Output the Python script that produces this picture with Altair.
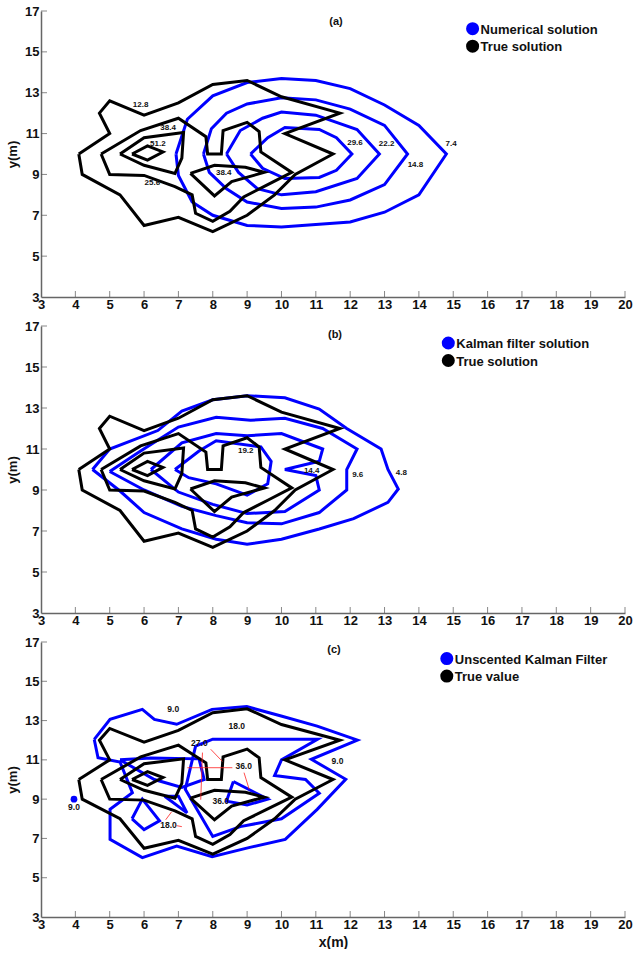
import altair as alt
import pandas as pd

X_TICKS = list(range(3, 21))
Y_TICKS = [3, 5, 7, 9, 11, 13, 15, 17]

# ---- true solution contours (same in all panels) ----
TRUE_12_8 = [(4.1, 10.0), (5.0, 11.0), (4.7, 12.0), (5.0, 12.6), (6.0, 11.9), (7.0, 12.5), (8.0, 13.4),
             (9.0, 13.6), (10.0, 12.8), (11.7, 12.0), (10.1, 11.0), (11.5, 10.0), (10.4, 9.0), (9.8, 8.0),
             (9.0, 7.0), (8.0, 6.2), (7.0, 6.9), (6.0, 6.5), (5.3, 8.0), (4.2, 9.0), (4.1, 10.0)]
TRUE_25_6 = [(4.75, 10.0), (5.9, 11.15), (7.0, 11.75), (7.8, 10.85), (7.85, 10.0), (8.25, 10.0), (8.3, 11.15),
             (9.0, 11.55), (9.35, 11.1), (9.4, 10.1), (10.3, 9.1), (9.6, 8.5), (8.9, 7.9), (8.5, 7.2),
             (8.0, 6.7), (7.5, 7.1), (7.4, 8.0), (6.9, 8.4), (6.0, 8.95), (5.0, 9.0), (4.75, 10.0)]
TRUE_38_4A = [(5.3, 10.0), (6.0, 10.8), (7.15, 11.05), (7.1, 9.8), (6.9, 9.05), (6.0, 9.45), (5.3, 10.0)]
TRUE_51_2 = [(5.65, 10.0), (6.1, 10.4), (6.55, 10.1), (6.1, 9.7), (5.65, 10.0)]
TRUE_38_4B = [(7.35, 9.05), (8.05, 9.45), (8.95, 9.35), (9.5, 9.1), (8.55, 8.65), (8.05, 7.95), (7.35, 9.05)]
TRUE_CONTOURS = [TRUE_12_8, TRUE_25_6, TRUE_38_4A, TRUE_51_2, TRUE_38_4B]

# ---- (a) numerical solution ----
NUM_7_4 = [(6.93, 10.0), (7.26, 11.7), (8.0, 12.85), (9.0, 13.5), (10.0, 13.7), (11.0, 13.6), (12.0, 13.2),
           (13.0, 12.4), (14.0, 11.4), (14.8, 10.0), (14.0, 8.0), (13.0, 7.15), (12.0, 6.67), (10.0, 6.43),
           (9.0, 6.5), (8.0, 7.0), (7.4, 7.65), (7.0, 8.95), (6.93, 10.0)]
NUM_14_8 = [(7.73, 10.0), (7.96, 11.24), (8.4, 12.0), (9.0, 12.45), (10.0, 12.75), (11.0, 12.65), (12.0, 12.2),
            (13.0, 11.4), (13.67, 10.0), (13.0, 8.5), (12.0, 7.75), (11.0, 7.4), (10.0, 7.33), (9.0, 7.65),
            (8.4, 8.3), (7.9, 9.1), (7.73, 10.0)]
NUM_22_2 = [(8.4, 10.0), (8.8, 11.15), (9.45, 11.75), (10.0, 12.05), (11.0, 11.9), (12.2, 11.2), (12.85, 10.0),
            (12.2, 8.8), (11.0, 8.15), (10.0, 8.0), (9.3, 8.3), (8.75, 9.1), (8.4, 10.0)]
NUM_29_6 = [(9.1, 10.0), (9.6, 10.8), (10.1, 11.3), (11.1, 11.2), (11.6, 10.8), (12.05, 10.0), (11.6, 9.2),
            (11.1, 8.85), (10.1, 8.8), (9.45, 9.3), (9.1, 10.0)]
NUM_CONTOURS = [NUM_7_4, NUM_14_8, NUM_22_2, NUM_29_6]
LABELS_A = [("12.8", 5.9, 12.38), ("38.4", 6.7, 11.27), ("51.2", 6.4, 10.47), ("25.6", 6.24, 8.58),
            ("38.4", 8.32, 9.09), ("29.6", 12.14, 10.56), ("22.2", 13.06, 10.47), ("14.8", 13.9, 9.45),
            ("7.4", 14.94, 10.47)]

# ---- (b) Kalman filter solution ----
KF_4_8 = [(4.5, 10.0), (5.0, 11.0), (6.4, 11.9), (7.1, 12.85), (8.0, 13.4), (9.0, 13.6), (10.1, 13.5),
          (11.1, 12.95), (11.9, 12.0), (12.9, 11.0), (13.1, 10.0), (13.4, 9.05), (13.1, 8.4), (12.1, 7.6),
          (11.1, 7.1), (10.0, 6.6), (9.0, 6.35), (8.1, 6.6), (7.1, 7.1), (6.0, 7.9), (5.3, 8.95), (4.5, 10.0)]
KF_9_6 = [(5.0, 9.9), (5.9, 10.9), (7.0, 12.07), (8.1, 12.55), (9.1, 12.4), (10.1, 12.5), (11.2, 12.0),
          (12.2, 11.0), (11.9, 10.0), (11.9, 9.0), (11.1, 7.9), (10.0, 7.35), (9.0, 7.4), (8.1, 7.75),
          (7.1, 8.2), (6.0, 9.0), (5.0, 9.9)]
KF_14_4 = [(6.2, 10.0), (7.1, 11.3), (8.1, 11.75), (9.0, 11.65), (10.0, 11.75), (11.2, 11.0), (11.1, 10.4),
           (10.1, 10.0), (11.0, 9.7), (11.1, 9.0), (10.1, 7.95), (9.0, 7.85), (8.0, 8.3), (7.0, 8.9), (6.2, 10.0)]
KF_19_2 = [(6.9, 10.0), (7.6, 10.9), (8.1, 11.4), (9.4, 11.1), (9.7, 10.4), (9.6, 9.3), (9.0, 8.75),
           (8.1, 9.3), (7.3, 9.6), (6.9, 10.0)]
KF_CONTOURS = [KF_4_8, KF_9_6, KF_14_4, KF_19_2]
LABELS_B = [("19.2", 8.96, 10.88), ("14.4", 10.88, 9.92), ("9.6", 12.22, 9.75), ("4.8", 13.49, 9.82)]

# ---- (c) unscented Kalman filter ----
UKF_9_0 = [(4.55, 12.04), (5.01, 13.06), (5.95, 13.57), (6.3, 13.06), (6.95, 12.81), (7.98, 13.57),
           (8.99, 13.71), (9.99, 13.23), (11.04, 12.72), (12.21, 12.01), (10.87, 11.03), (11.87, 10.01),
           (11.04, 8.48), (10.11, 6.95), (9.05, 6.53), (7.98, 6.07), (6.95, 6.61), (5.95, 6.02), (5.01, 6.95),
           (5.01, 8.48), (5.66, 9.33), (5.3, 10.89), (4.66, 11.11), (4.55, 12.04)]
UKF_18_0A = [(7.5, 11.7), (8.0, 12.05), (9.4, 12.05), (11.05, 12.05), (10.0, 11.0), (9.8, 10.2), (10.7, 10.0),
             (11.1, 9.3), (10.0, 8.0), (8.8, 7.6), (8.0, 7.1), (7.5, 8.6), (7.2, 9.5), (7.5, 11.7)]
UKF_18_0B = [(5.65, 8.0), (5.95, 9.0), (6.45, 7.9), (6.0, 7.45), (5.65, 8.0)]
UKF_27_0 = [(5.3, 11.0), (6.2, 11.1), (7.6, 11.05), (7.75, 10.0), (7.1, 9.6), (6.3, 10.0), (5.3, 11.0)]
UKF_36_0 = [(8.6, 9.9), (9.6, 9.0), (9.0, 8.7), (8.4, 8.9), (8.6, 9.9)]
UKF_36_0B = [(6.6, 9.15), (7.0, 9.15), (7.25, 8.3), (6.6, 9.15)]
UKF_CONTOURS = [UKF_9_0, UKF_18_0A, UKF_18_0B, UKF_27_0, UKF_36_0, UKF_36_0B]
UKF_DOT = [(3.96, 9.0)]
LABELS_C = [("9.0", 6.85, 13.6), ("18.0", 8.7, 12.72), ("27.0", 7.61, 11.84), ("36.0", 8.9, 10.69),
            ("36.0", 8.23, 8.91), ("18.0", 6.71, 7.68), ("9.0", 11.63, 10.94), ("9.0", 3.96, 8.6)]
RED_SEGMENTS = [((7.26, 10.6), (8.57, 10.6)), ((7.7, 11.37), (7.65, 8.97)), ((7.94, 11.54), (8.28, 10.92)),
                ((8.91, 10.35), (9.06, 9.5)), ((6.63, 7.95), (6.8, 8.35)), ((6.95, 7.65), (7.1, 7.6))]

LEGEND_A = ["Numerical solution", "True solution"]
LEGEND_B = ["Kalman filter solution", "True solution"]
LEGEND_C = ["Unscented Kalman Filter", "True value"]

BLUE = "#0000ff"
BLACK = "#000000"
W = 584


def lines_df(contours):
    rows = []
    for cid, pts in enumerate(contours):
        for i, (x, y) in enumerate(pts):
            rows.append({"cid": cid, "i": i, "x": x, "y": y})
    return pd.DataFrame(rows)


def panel(blue, labels, legend, tag, h, leg_xy, tag_xy, xtitle, lab_size, red=None, dot=None):
    xs = alt.Scale(domain=[3, 20], nice=False, zero=False)
    ys = alt.Scale(domain=[3, 17], nice=False, zero=False)
    xax = alt.Axis(values=X_TICKS, format="d", title=xtitle, labelPadding=1, titlePadding=4,
                   labelFlush=False, labelOverlap=False)
    yax = alt.Axis(values=Y_TICKS, format="d", title="y(m)", labelPadding=2, titlePadding=5,
                   labelFlush=False, labelOverlap=False)
    X = alt.X("x:Q", scale=xs, axis=xax)
    Y = alt.Y("y:Q", scale=ys, axis=yax)

    layers = []
    layers.append(alt.Chart(lines_df(blue)).mark_line(color=BLUE, strokeWidth=3, strokeJoin="miter")
                  .encode(x=X, y=Y, detail="cid:N", order="i:Q"))
    layers.append(alt.Chart(lines_df(TRUE_CONTOURS)).mark_line(color=BLACK, strokeWidth=3, strokeJoin="miter")
                  .encode(x=X, y=Y, detail="cid:N", order="i:Q"))
    if red is not None:
        rdf = pd.DataFrame([{"x": a[0], "y": a[1], "x2": b[0], "y2": b[1]} for a, b in red])
        layers.append(alt.Chart(rdf).mark_rule(color="#ff2020", strokeWidth=0.8)
                      .encode(x=X, y=Y, x2="x2:Q", y2="y2:Q"))
    if dot is not None:
        ddf = pd.DataFrame([{"x": p[0], "y": p[1]} for p in dot])
        layers.append(alt.Chart(ddf).mark_circle(color=BLUE, size=45, opacity=1).encode(x=X, y=Y))
    ldf = pd.DataFrame([{"t": t, "x": x, "y": y} for t, x, y in labels])
    layers.append(alt.Chart(ldf).mark_text(fontSize=lab_size, fontWeight="bold", color="#111",
                                           font="Liberation Sans")
                  .encode(x=X, y=Y, text="t:N"))
    # inward ticks
    layers.append(alt.Chart(pd.DataFrame({"x": X_TICKS[1:]})).mark_tick(orient="vertical", size=6,
                                                                        thickness=1, color="#555")
                  .encode(x=X, y=alt.value(h - 3)))
    layers.append(alt.Chart(pd.DataFrame({"y": Y_TICKS[1:]})).mark_tick(orient="horizontal", size=6,
                                                                        thickness=1, color="#555")
                  .encode(y=Y, x=alt.value(3)))
    # legend
    lx, ly = leg_xy
    for k, (name, col) in enumerate(zip(legend, [BLUE, BLACK])):
        d = pd.DataFrame({"t": [name]})
        layers.append(alt.Chart(d).mark_circle(color=col, size=170, opacity=1)
                      .encode(x=alt.value(lx), y=alt.value(ly + 17.5 * k)))
        layers.append(alt.Chart(d).mark_text(align="left", baseline="middle", fontSize=13, fontWeight="bold",
                                             font="Liberation Sans", color="#111")
                      .encode(x=alt.value(lx + 8), y=alt.value(ly + 17.5 * k + 1), text="t:N"))
    td = pd.DataFrame({"t": [tag]})
    layers.append(alt.Chart(td).mark_text(fontSize=11, fontWeight="bold", font="Liberation Sans", color="#111")
                  .encode(x=alt.value(tag_xy[0]), y=alt.value(tag_xy[1]), text="t:N"))
    return alt.layer(*layers).properties(width=W, height=h)


pa = panel(NUM_CONTOURS, LABELS_A, LEGEND_A, "(a)", 286, (431.6, 17.7), (295, 11), None, 8)
pb = panel(KF_CONTOURS, LABELS_B, LEGEND_B, "(b)", 287, (407.3, 17.0), (294, 9), None, 8)
pc = panel(UKF_CONTOURS, LABELS_C, LEGEND_C, "(c)", 275, (405.8, 16.6), (293, 7.5), "x(m)", 8.5,
           red=RED_SEGMENTS, dot=UKF_DOT)

chart = alt.vconcat(pa, pb, pc, spacing=29, bounds="flush").properties(
    padding={"left": 6, "top": 5, "right": 0, "bottom": 0},
    background="white",
).configure_view(stroke=None).configure_axis(
    grid=False, ticks=False, tickSize=0, domainColor="#666", domainWidth=1.5,
    labelFont="Liberation Sans", labelFontWeight="bold", labelFontSize=13, labelColor="#111",
    titleFont="Liberation Sans", titleFontWeight="bold", titleFontSize=13, titleColor="#111",
).configure_axisX(titleFontSize=14)

chart.save("out.html", embed_options={"renderer": "svg", "actions": False})
